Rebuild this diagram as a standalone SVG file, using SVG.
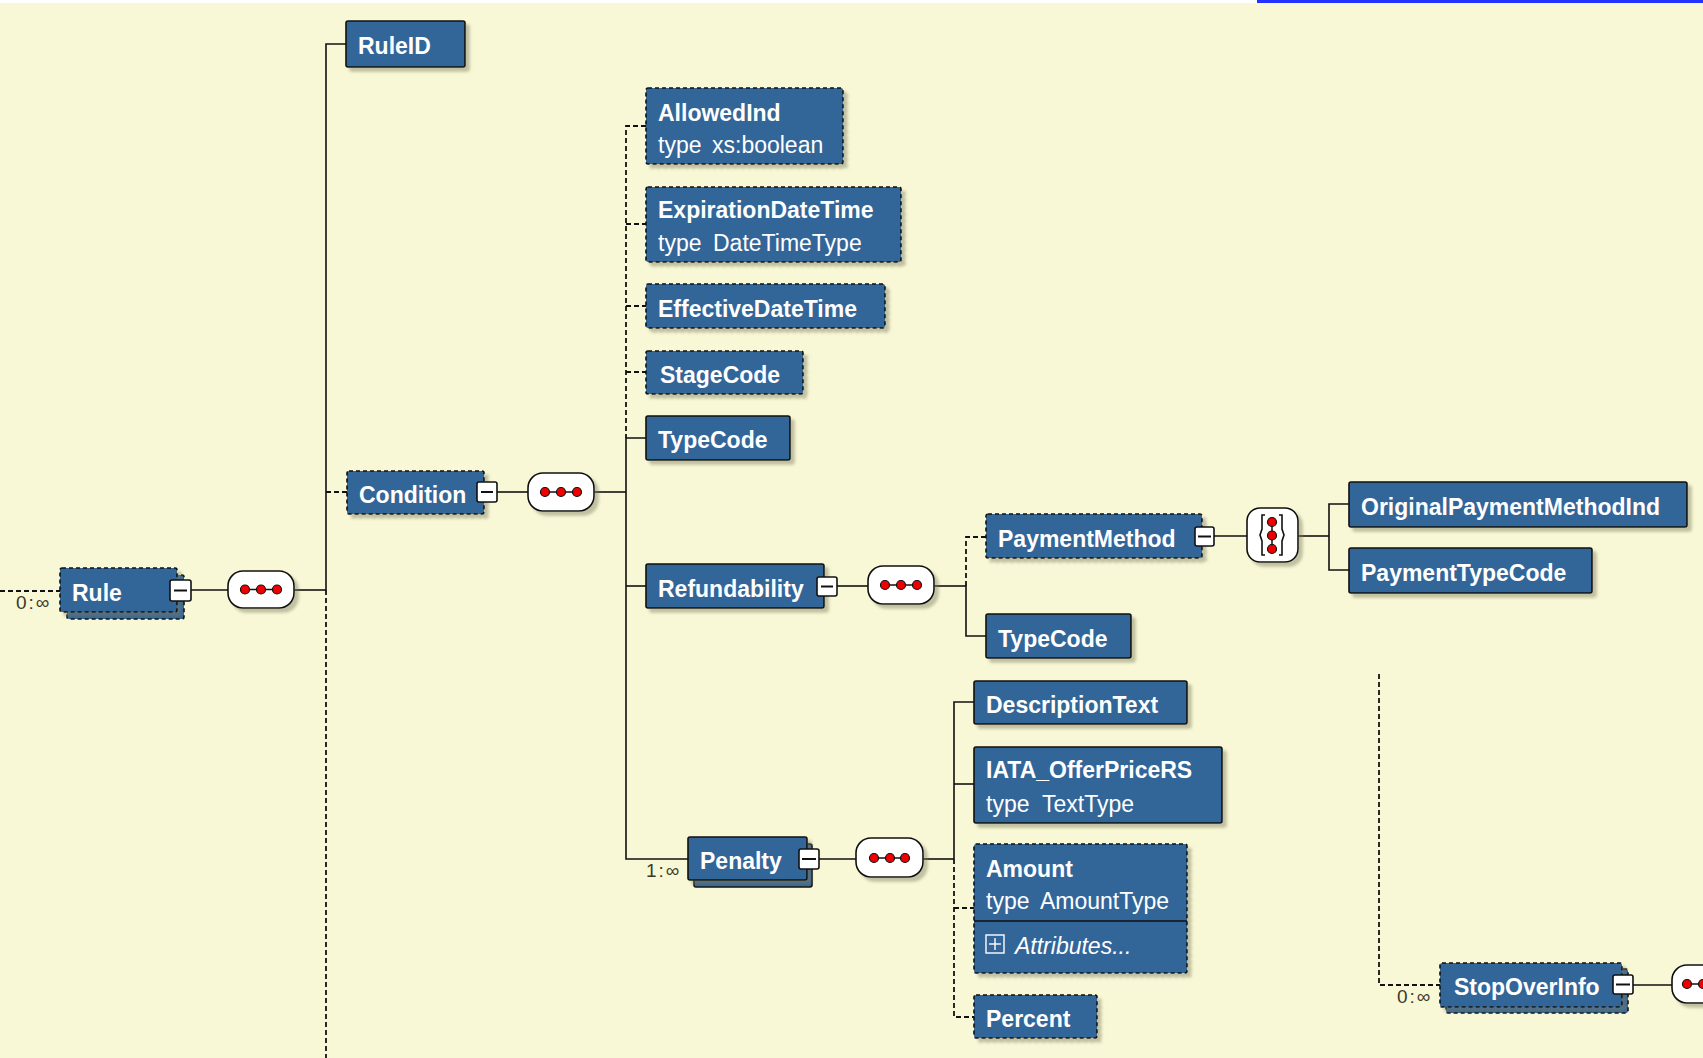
<svg xmlns="http://www.w3.org/2000/svg" width="1703" height="1058" viewBox="0 0 1703 1058">
<defs>
<filter id="sh" x="-10%" y="-10%" width="130%" height="140%">
<feDropShadow dx="4" dy="4" stdDeviation="1.6" flood-color="#7a7a60" flood-opacity="0.45"/>
</filter>
<style>
.bx{fill:#336699;stroke:#111;stroke-width:1.6}
.dsh{stroke-dasharray:4 3}
.t{font-family:"Liberation Sans",Arial,sans-serif;font-size:23px;font-weight:bold;fill:#fff}
.ty{font-family:"Liberation Sans",Arial,sans-serif;font-size:23px;fill:#fff}
.it{font-family:"Liberation Sans",Arial,sans-serif;font-size:23px;font-style:italic;fill:#fff}
.card{font-family:"Liberation Sans",Arial,sans-serif;font-size:19px;fill:#3a3a2a;letter-spacing:2px}
.btn{fill:#fff;stroke:#111;stroke-width:1.6}
.mn{stroke:#111;stroke-width:2}
.ov{fill:#fff;stroke:#111;stroke-width:1.6}
.dl{stroke:#111;stroke-width:1.5}
.dot{fill:#e00;stroke:#111;stroke-width:1.2}
.c{stroke:#111;stroke-width:1.6;fill:none}
.cd{stroke:#111;stroke-width:1.8;fill:none;stroke-dasharray:5 3}
</style>
</defs>
<rect x="0" y="0" width="1703" height="1058" fill="#F8F8D6"/>
<rect x="0" y="0" width="1257" height="3" fill="#ffffff"/>
<rect x="1257" y="0" width="446" height="3" fill="#2233ff"/>

<g id="connectors">
<line class="cd" x1="0" y1="591" x2="60" y2="591"/>
<line class="c" x1="191" y1="590" x2="228" y2="590"/>
<line class="c" x1="294" y1="590" x2="326" y2="590"/>
<polyline class="c" points="346,44 326,44 326,590"/>
<line class="cd" x1="326" y1="590" x2="326" y2="1058"/>
<line class="cd" x1="326" y1="492" x2="347" y2="492"/>
<line class="c" x1="497" y1="492" x2="528" y2="492"/>
<line class="c" x1="594" y1="492" x2="626" y2="492"/>
<polyline class="cd" points="646,126 626,126 626,438"/>
<line class="cd" x1="626" y1="224" x2="646" y2="224"/>
<line class="cd" x1="626" y1="306" x2="646" y2="306"/>
<line class="cd" x1="626" y1="372" x2="646" y2="372"/>
<polyline class="c" points="646,438 626,438 626,859 688,859"/>
<line class="c" x1="626" y1="586" x2="646" y2="586"/>
<line class="c" x1="837" y1="586" x2="868" y2="586"/>
<line class="c" x1="934" y1="586" x2="966" y2="586"/>
<polyline class="cd" points="986,537 966,537 966,586"/>
<polyline class="c" points="966,586 966,636 986,636"/>
<line class="c" x1="1214" y1="536" x2="1247" y2="536"/>
<line class="c" x1="1298" y1="536" x2="1329" y2="536"/>
<polyline class="c" points="1349,504 1329,504 1329,570 1349,570"/>
<line class="c" x1="819" y1="859" x2="856" y2="859"/>
<line class="c" x1="923" y1="859" x2="954" y2="859"/>
<polyline class="c" points="974,702 954,702 954,859"/>
<line class="c" x1="954" y1="784" x2="974" y2="784"/>
<polyline class="cd" points="954,859 954,1017 974,1017"/>
<line class="cd" x1="954" y1="908" x2="974" y2="908"/>
<polyline class="cd" points="1379,674 1379,985 1440,985"/>
<line class="c" x1="1633" y1="985" x2="1672" y2="985"/>
</g>

<g id="rule">
<rect class="bx dsh" x="67" y="575" width="117" height="44" rx="2"/>
<rect class="bx dsh" x="60" y="568" width="117" height="44" rx="2" filter="url(#sh)"/>
<text class="t" x="72" y="601">Rule</text>
<text class="card" x="16" y="609">0:∞</text>
<rect class="btn" x="170" y="580" width="21" height="21" rx="2"/>
<line class="mn" x1="174" y1="590.5" x2="187" y2="590.5"/>
</g>
<g id="rule-seq">
<rect class="ov" x="228" y="571" width="66" height="37" rx="15" filter="url(#sh)"/>
<line class="dl" x1="240" y1="589.5" x2="282" y2="589.5"/>
<circle class="dot" cx="245" cy="589.5" r="4.5"/><circle class="dot" cx="261" cy="589.5" r="4.5"/><circle class="dot" cx="277" cy="589.5" r="4.5"/>
</g>

<g id="ruleid">
<rect class="bx" x="346" y="21" width="119" height="46" rx="2" filter="url(#sh)"/>
<text class="t" x="358" y="54">RuleID</text>
</g>

<g id="condition">
<rect class="bx dsh" x="347" y="471" width="137" height="43" rx="2" filter="url(#sh)"/>
<text class="t" x="359" y="503">Condition</text>
<rect class="btn" x="477" y="482" width="20" height="20" rx="2"/>
<line class="mn" x1="481" y1="492" x2="493" y2="492"/>
</g>
<g id="condition-seq">
<rect class="ov" x="528" y="473" width="66" height="38" rx="15" filter="url(#sh)"/>
<line class="dl" x1="540" y1="492" x2="582" y2="492"/>
<circle class="dot" cx="545" cy="492" r="4.5"/><circle class="dot" cx="561" cy="492" r="4.5"/><circle class="dot" cx="577" cy="492" r="4.5"/>
</g>

<g id="allowedind">
<rect class="bx dsh" x="646" y="88" width="197" height="76" rx="2" filter="url(#sh)"/>
<text class="t" x="658" y="121">AllowedInd</text>
<text class="ty" x="658" y="153">type</text><text class="ty" x="712" y="153">xs:boolean</text>
</g>
<g id="expirationdatetime">
<rect class="bx dsh" x="646" y="187" width="255" height="75" rx="2" filter="url(#sh)"/>
<text class="t" x="658" y="218">ExpirationDateTime</text>
<text class="ty" x="658" y="251">type</text><text class="ty" x="713" y="251">DateTimeType</text>
</g>
<g id="effectivedatetime">
<rect class="bx dsh" x="646" y="284" width="239" height="44" rx="2" filter="url(#sh)"/>
<text class="t" x="658" y="317">EffectiveDateTime</text>
</g>
<g id="stagecode">
<rect class="bx dsh" x="646" y="351" width="157" height="43" rx="2" filter="url(#sh)"/>
<text class="t" x="660" y="383">StageCode</text>
</g>
<g id="typecode">
<rect class="bx" x="646" y="416" width="144" height="44" rx="2" filter="url(#sh)"/>
<text class="t" x="658" y="448">TypeCode</text>
</g>

<g id="refundability">
<rect class="bx" x="646" y="564" width="178" height="44" rx="2" filter="url(#sh)"/>
<text class="t" x="658" y="597">Refundability</text>
<rect class="btn" x="817" y="577" width="20" height="19" rx="2"/>
<line class="mn" x1="821" y1="586.5" x2="833" y2="586.5"/>
</g>
<g id="refundability-seq">
<rect class="ov" x="868" y="566" width="66" height="38" rx="15" filter="url(#sh)"/>
<line class="dl" x1="880" y1="585" x2="922" y2="585"/>
<circle class="dot" cx="885" cy="585" r="4.5"/><circle class="dot" cx="901" cy="585" r="4.5"/><circle class="dot" cx="917" cy="585" r="4.5"/>
</g>

<g id="paymentmethod">
<rect class="bx dsh" x="986" y="514" width="216" height="44" rx="2" filter="url(#sh)"/>
<text class="t" x="998" y="547">PaymentMethod</text>
<rect class="btn" x="1195" y="527" width="19" height="19" rx="2"/>
<line class="mn" x1="1198" y1="536.5" x2="1211" y2="536.5"/>
</g>
<g id="paymentmethod-choice">
<rect class="ov" x="1247" y="508" width="51" height="54" rx="13" filter="url(#sh)"/>
<line class="dl" x1="1272" y1="518" x2="1272" y2="553"/>
<path class="c" d="M1265,515 h-3 v14 l-2,6 l2,6 v14 h3"/>
<path class="c" d="M1279,515 h3 v14 l2,6 l-2,6 v14 h-3"/>
<circle class="dot" cx="1272" cy="522" r="4.5"/><circle class="dot" cx="1272" cy="535.5" r="4.5"/><circle class="dot" cx="1272" cy="549" r="4.5"/>
</g>
<g id="originalpaymentmethodind">
<rect class="bx" x="1349" y="482" width="338" height="45" rx="2" filter="url(#sh)"/>
<text class="t" x="1361" y="515">OriginalPaymentMethodInd</text>
</g>
<g id="paymenttypecode">
<rect class="bx" x="1349" y="548" width="243" height="45" rx="2" filter="url(#sh)"/>
<text class="t" x="1361" y="581">PaymentTypeCode</text>
</g>
<g id="typecode2">
<rect class="bx" x="986" y="614" width="145" height="44" rx="2" filter="url(#sh)"/>
<text class="t" x="998" y="647">TypeCode</text>
</g>

<g id="penalty">
<rect class="bx" x="694" y="844" width="118" height="43" rx="2"/>
<rect class="bx" x="688" y="837" width="119" height="43" rx="2" filter="url(#sh)"/>
<text class="t" x="700" y="869">Penalty</text>
<text class="card" x="646" y="877">1:∞</text>
<rect class="btn" x="799" y="849" width="20" height="20" rx="2"/>
<line class="mn" x1="802" y1="859" x2="816" y2="859"/>
</g>
<g id="penalty-seq">
<rect class="ov" x="856" y="838" width="67" height="39" rx="15" filter="url(#sh)"/>
<line class="dl" x1="869" y1="858" x2="910" y2="858"/>
<circle class="dot" cx="874" cy="858" r="4.5"/><circle class="dot" cx="890" cy="858" r="4.5"/><circle class="dot" cx="905" cy="858" r="4.5"/>
</g>
<g id="descriptiontext">
<rect class="bx" x="974" y="681" width="213" height="43" rx="2" filter="url(#sh)"/>
<text class="t" x="986" y="713">DescriptionText</text>
</g>
<g id="iata_offerpricers">
<rect class="bx" x="974" y="747" width="248" height="76" rx="2" filter="url(#sh)"/>
<text class="t" x="986" y="778">IATA_OfferPriceRS</text>
<text class="ty" x="986" y="812">type</text><text class="ty" x="1042" y="812">TextType</text>
</g>
<g id="amount">
<rect class="bx dsh" x="974" y="844" width="213" height="129" rx="2" filter="url(#sh)"/>
<line class="dl" x1="974" y1="921" x2="1187" y2="921"/>
<text class="t" x="986" y="877">Amount</text>
<text class="ty" x="986" y="909">type</text><text class="ty" x="1040" y="909">AmountType</text>
<rect x="986" y="935" width="18" height="18" fill="none" stroke="#fff" stroke-width="1.4"/>
<line x1="989" y1="944" x2="1001" y2="944" stroke="#fff" stroke-width="1.4"/>
<line x1="995" y1="938" x2="995" y2="950" stroke="#fff" stroke-width="1.4"/>
<text class="it" x="1015" y="954">Attributes...</text>
</g>
<g id="percent">
<rect class="bx dsh" x="974" y="995" width="123" height="43" rx="2" filter="url(#sh)"/>
<text class="t" x="986" y="1027">Percent</text>
</g>

<g id="stopoverinfo">
<rect class="bx dsh" x="1446" y="969" width="182" height="44" rx="2"/>
<rect class="bx dsh" x="1440" y="963" width="182" height="44" rx="2" filter="url(#sh)"/>
<text class="t" x="1454" y="995">StopOverInfo</text>
<text class="card" x="1397" y="1003">0:∞</text>
<rect class="btn" x="1613" y="975" width="20" height="19" rx="2"/>
<line class="mn" x1="1616" y1="984.5" x2="1630" y2="984.5"/>
</g>
<g id="stopoverinfo-seq">
<rect class="ov" x="1672" y="965" width="66" height="38" rx="15" filter="url(#sh)"/>
<line class="dl" x1="1684" y1="984" x2="1726" y2="984"/>
<circle class="dot" cx="1687" cy="984" r="4.5"/><circle class="dot" cx="1703" cy="984" r="4.5"/><circle class="dot" cx="1719" cy="984" r="4.5"/>
</g>
</svg>
